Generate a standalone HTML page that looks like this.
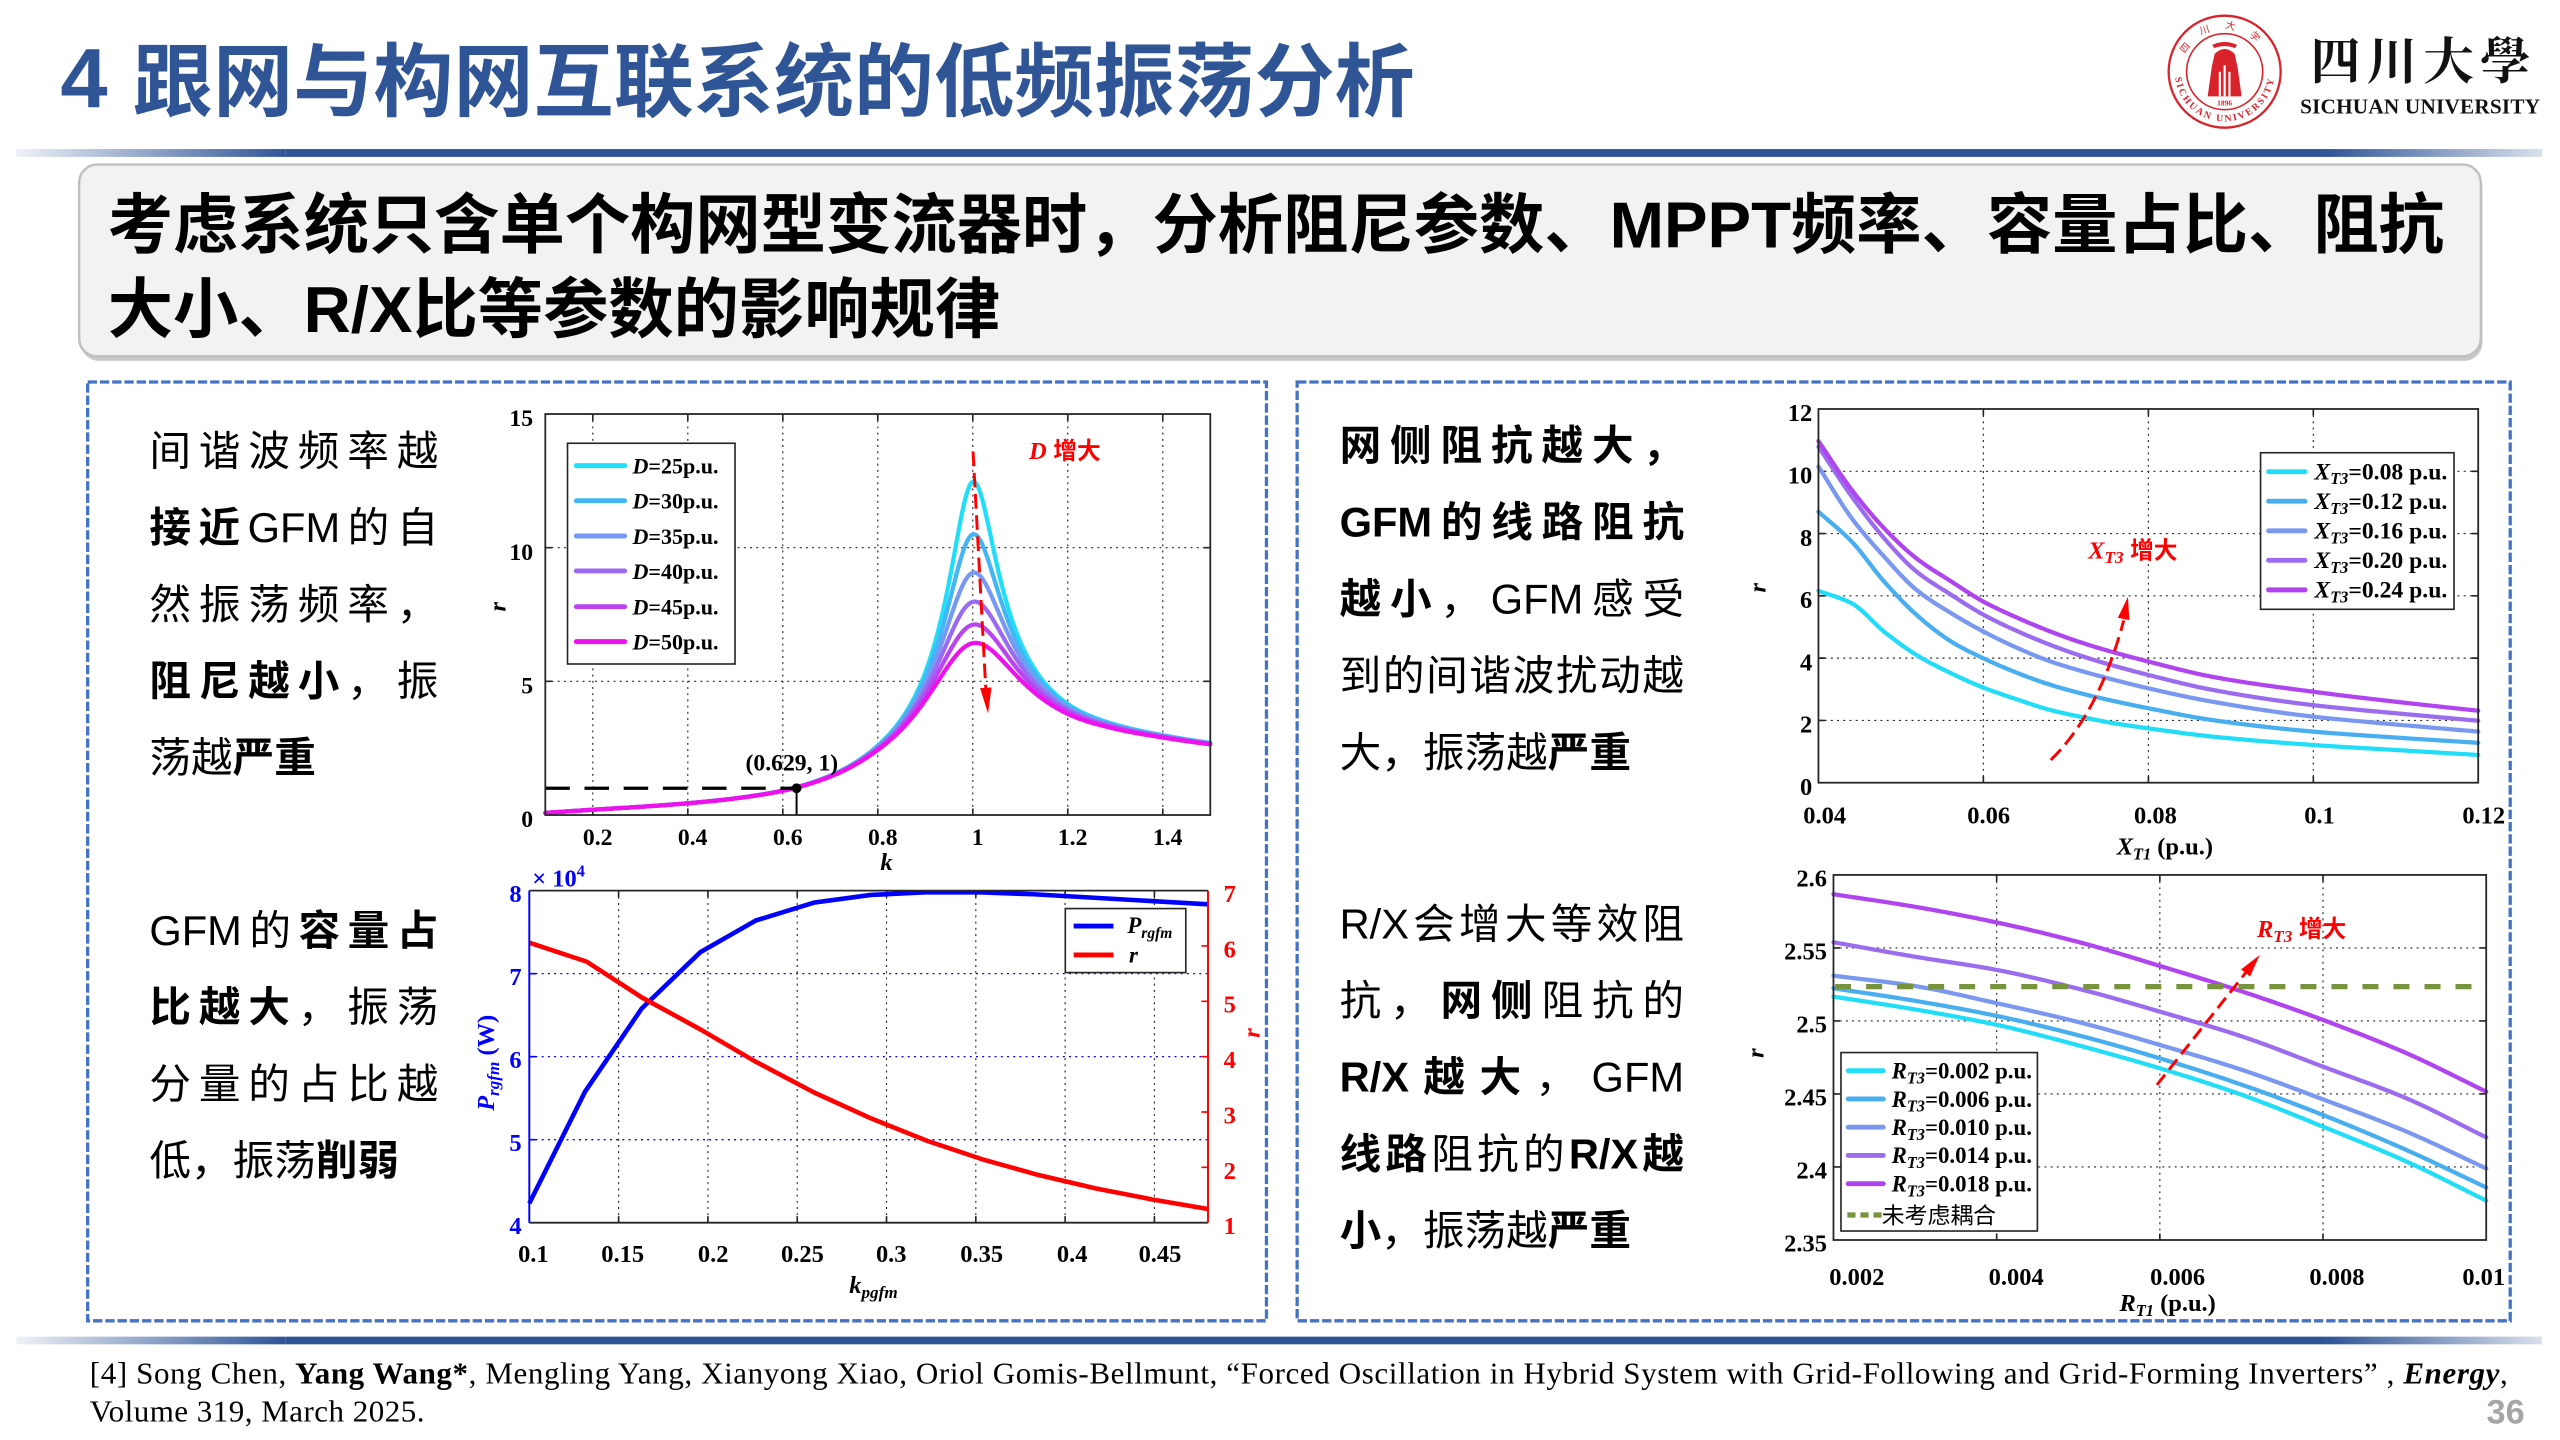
<!DOCTYPE html>
<html><head><meta charset="utf-8">
<style>
html,body{margin:0;padding:0;background:#fff;}
svg{display:block;}
.cn{font-family:"Liberation Sans","Noto Sans CJK SC",sans-serif;}
.sf{font-family:"Liberation Serif","Noto Serif CJK SC",serif;}
.tk{font-family:"Liberation Serif","Noto Serif CJK SC",serif;font-weight:700;}
.hz{font-family:"Liberation Sans","Noto Sans CJK SC",sans-serif;font-weight:700;font-style:normal;}
</style></head><body>
<svg width="2560" height="1440" viewBox="0 0 1568 882">
<defs>
<linearGradient id="gl" x1="0" x2="1" y1="0" y2="0"><stop offset="0" stop-color="#EEF1F7"/><stop offset="1" stop-color="#2F5597"/></linearGradient>
<linearGradient id="gr" x1="0" x2="1" y1="0" y2="0"><stop offset="0" stop-color="#2F5597"/><stop offset="1" stop-color="#D9E0EC"/></linearGradient>
</defs>
<rect width="1568" height="882" fill="#fff"/>

<!-- Title -->
<text class="cn" x="37" y="66" font-size="52" font-weight="700" fill="#2F5597">4</text>
<text class="cn" x="81.5" y="67.5" font-size="49" font-weight="700" fill="#2F5597" textLength="785" lengthAdjust="spacing">跟网与构网互联系统的低频振荡分析</text>

<!-- Logo -->
<g>
<circle cx="1362.6" cy="43.9" r="34.3" fill="none" stroke="#D8232A" stroke-width="1.4"/>
<circle cx="1362.6" cy="43.9" r="23.3" fill="none" stroke="#D8232A" stroke-width="1"/>
<path id="sealb" d="M1333.14 36.01A30.5 30.5 0 1 0 1392.06 36.01" fill="none"/>
<path id="sealt" d="M1340.08 30.9A26 26 0 0 1 1385.12 30.9" fill="none"/>
<text class="tk" font-size="6" fill="#D8232A" letter-spacing="1.2"><textPath href="#sealb" startOffset="50%" text-anchor="middle">SICHUAN UNIVERSITY</textPath></text>
<text class="cn" font-size="6" fill="#D8232A" letter-spacing="9"><textPath href="#sealt" startOffset="50%" text-anchor="middle">四川大学</textPath></text>
<path fill="#D8232A" d="M1355 27.5 Q1362.6 24 1370.2 27.5 L1369 29.5 Q1362.6 27 1356.2 29.5 Z"/>
<path fill="#D8232A" d="M1356.5 33 Q1362.6 27 1368.7 33 L1370.5 41 L1373 59 L1352.2 59 L1354.7 41 Z"/>
<g fill="#fff"><rect x="1359" y="44" width="1.3" height="15"/><rect x="1361.95" y="40" width="1.3" height="19"/><rect x="1364.9" y="44" width="1.3" height="15"/></g>
<text class="tk" x="1362.6" y="64.5" font-size="4.6" text-anchor="middle" fill="#D8232A">1896</text>
<text x="1415" y="48.5" font-size="31" font-weight="700" fill="#111" font-family="'Noto Serif CJK TC','Noto Serif CJK SC',serif" textLength="135" lengthAdjust="spacing">四川大學</text>
<text class="tk" x="1408.8" y="69.4" font-size="13" fill="#111" textLength="147" lengthAdjust="spacing">SICHUAN UNIVERSITY</text>
</g>

<!-- Bars -->
<rect x="10" y="91.3" width="165" height="4.8" fill="url(#gl)"/>
<rect x="175" y="91.3" width="1250" height="4.8" fill="#2F5597"/>
<rect x="1425" y="91.3" width="132" height="4.8" fill="url(#gr)"/>
<rect x="10" y="818.7" width="165" height="4.7" fill="url(#gl)"/>
<rect x="175" y="818.7" width="1250" height="4.7" fill="#2F5597"/>
<rect x="1425" y="818.7" width="132" height="4.7" fill="url(#gr)"/>

<!-- Gray box -->
<rect x="49.5" y="103.5" width="1471" height="117.5" rx="11" fill="#C9C9C9"/>
<rect x="48.5" y="100.8" width="1471" height="117.5" rx="11" fill="#F2F2F2" stroke="#BFBFBF" stroke-width="1.5"/>
<text class="cn" x="66" y="151.5" font-size="40" font-weight="700" fill="#000">考虑系统只含单个构网型变流器时，分析阻尼参数、MPPT频率、容量占比、阻抗</text>
<text class="cn" x="66" y="203.5" font-size="40" font-weight="700" fill="#000">大小、R/X比等参数的影响规律</text>

<!-- Dashed boxes -->
<rect x="53.7" y="234" width="722" height="575" fill="none" stroke="#4472C4" stroke-width="2" stroke-dasharray="5.7 1.8"/>
<rect x="794.5" y="234" width="743" height="575" fill="none" stroke="#4472C4" stroke-width="2" stroke-dasharray="5.7 1.8"/>

<!-- Left / right texts -->
<g class="cn" font-size="25.5" fill="#000">
<text x="91.5" y="285" textLength="177" lengthAdjust="spacing">间谐波频率越</text>
<text x="91.5" y="332"><tspan font-weight="700">接</tspan><tspan font-weight="700" x="121.6">近</tspan><tspan x="151.7">GFM</tspan><tspan x="212.9">的</tspan><tspan x="243">自</tspan></text>
<text x="91.5" y="379" textLength="177" lengthAdjust="spacing">然振荡频率，</text>
<text x="91.5" y="426" textLength="177" lengthAdjust="spacing"><tspan font-weight="700">阻尼越小</tspan>，振</text>
<text x="91.5" y="473">荡越<tspan font-weight="700">严重</tspan></text>

<text x="91.5" y="578.7"><tspan>GFM</tspan><tspan x="152.75">的</tspan><tspan font-weight="700" x="182.83">容</tspan><tspan font-weight="700" x="212.92">量</tspan><tspan font-weight="700" x="243">占</tspan></text>
<text x="91.5" y="625.7" textLength="177" lengthAdjust="spacing"><tspan font-weight="700">比越大</tspan>，振荡</text>
<text x="91.5" y="672.7" textLength="177" lengthAdjust="spacing">分量的占比越</text>
<text x="91.5" y="719.7">低，振荡<tspan font-weight="700">削弱</tspan></text>

<text x="820.5" y="281.7" textLength="211" lengthAdjust="spacing" font-weight="700">网侧阻抗越大，</text>
<text x="820.5" y="328.7" font-weight="700"><tspan>GFM</tspan><tspan x="882.53">的</tspan><tspan x="913.4">线</tspan><tspan x="944.27">路</tspan><tspan x="975.14">阻</tspan><tspan x="1006.01">抗</tspan></text>
<text x="820.5" y="375.7"><tspan font-weight="700">越</tspan><tspan font-weight="700" x="851.37">小</tspan><tspan x="882.24">，</tspan><tspan x="913.11">GFM</tspan><tspan x="975.14">感</tspan><tspan x="1006.01">受</tspan></text>
<text x="820.5" y="422.7" textLength="211" lengthAdjust="spacing">到的间谐波扰动越</text>
<text x="820.5" y="469.7">大，振荡越<tspan font-weight="700">严重</tspan></text>

<text x="820.5" y="574.7"><tspan>R/X</tspan><tspan x="865.58">会</tspan><tspan x="893.67">增</tspan><tspan x="921.75">大</tspan><tspan x="949.83">等</tspan><tspan x="977.92">效</tspan><tspan x="1006">阻</tspan></text>
<text x="820.5" y="621.7" textLength="211" lengthAdjust="spacing">抗，<tspan font-weight="700">网侧</tspan>阻抗的</text>
<text x="820.5" y="668.7"><tspan font-weight="700">R/X</tspan><tspan font-weight="700" x="871.84">越</tspan><tspan font-weight="700" x="906.17">大</tspan><tspan x="940.5">，</tspan><tspan x="974.84">GFM</tspan></text>
<text x="820.5" y="715.7"><tspan font-weight="700">线</tspan><tspan font-weight="700" x="848.58">路</tspan><tspan x="876.67">阻</tspan><tspan x="904.75">抗</tspan><tspan x="932.83">的</tspan><tspan font-weight="700" x="960.92">R/X</tspan><tspan font-weight="700" x="1006">越</tspan></text>
<text x="820.5" y="762.7"><tspan font-weight="700">小</tspan>，振荡越<tspan font-weight="700">严重</tspan></text>
</g>

<!-- ================= Chart 1 ================= -->
<rect x="334" y="253.6" width="407.3" height="245.6" fill="#fff"/>
<path d="M363.09 253.6V499.2M421.28 253.6V499.2M479.47 253.6V499.2M537.65 253.6V499.2M595.84 253.6V499.2M654.02 253.6V499.2M712.21 253.6V499.2M334 417.33H741.3M334 335.47H741.3" stroke="#262626" stroke-width="0.7" stroke-dasharray="1.2 2.6" fill="none"/>
<path d="M363.09 499.2v-4M421.28 499.2v-4M479.47 499.2v-4M537.65 499.2v-4M595.84 499.2v-4M654.02 499.2v-4M712.21 499.2v-4M363.09 253.6v4M421.28 253.6v4M479.47 253.6v4M537.65 253.6v4M595.84 253.6v4M654.02 253.6v4M712.21 253.6v4M334 417.33h4M334 335.47h4M741.3 417.33h-4M741.3 335.47h-4" stroke="#262626" stroke-width="1" fill="none"/>
<g fill="none" stroke-width="2.6" stroke-linejoin="round" stroke-linecap="round">
<path id="a0" stroke="#22DDF8"/>
<path id="a1" stroke="#44B6F6"/>
<path id="a2" stroke="#7799F4"/>
<path id="a3" stroke="#9A6BF2"/>
<path id="a4" stroke="#BB44F0"/>
<path id="a5" stroke="#EE11EE"/>
</g>
<line x1="334" y1="482.8" x2="487.9" y2="482.8" stroke="#000" stroke-width="2" stroke-dasharray="15 9"/>
<line x1="487.9" y1="482.8" x2="487.9" y2="499.2" stroke="#000" stroke-width="1.2"/>
<circle cx="487.9" cy="482.8" r="3" fill="#000"/>
<text class="tk" x="485" y="472" font-size="14.5" text-anchor="middle">(0.629, 1)</text>
<line x1="596" y1="276.6" x2="603.8" y2="422" stroke="#FF0000" stroke-width="1.8" stroke-dasharray="9 4"/>
<polygon points="605.2,437 600.3,421.5 607.3,421.1" fill="#FF0000"/>
<text class="tk" x="630.3" y="281" font-size="15" fill="#FF0000"><tspan font-style="italic">D</tspan><tspan class="hz" font-size="14.5"> 增大</tspan></text>
<rect x="347.6" y="271.5" width="102.6" height="135.2" fill="#fff" stroke="#262626" stroke-width="1"/>
<g stroke-width="3" stroke-linecap="round">
<line x1="353" y1="285.2" x2="382.6" y2="285.2" stroke="#22DDF8"/>
<line x1="353" y1="306.7" x2="382.6" y2="306.7" stroke="#44B6F6"/>
<line x1="353" y1="328.3" x2="382.6" y2="328.3" stroke="#7799F4"/>
<line x1="353" y1="349.7" x2="382.6" y2="349.7" stroke="#9A6BF2"/>
<line x1="353" y1="371.6" x2="382.6" y2="371.6" stroke="#BB44F0"/>
<line x1="353" y1="393" x2="382.6" y2="393" stroke="#EE11EE"/>
</g>
<g class="tk" font-size="13.5" fill="#000">
<text x="387.4" y="290"><tspan font-style="italic">D</tspan>=25p.u.</text>
<text x="387.4" y="311.5"><tspan font-style="italic">D</tspan>=30p.u.</text>
<text x="387.4" y="333.1"><tspan font-style="italic">D</tspan>=35p.u.</text>
<text x="387.4" y="354.5"><tspan font-style="italic">D</tspan>=40p.u.</text>
<text x="387.4" y="376.4"><tspan font-style="italic">D</tspan>=45p.u.</text>
<text x="387.4" y="397.8"><tspan font-style="italic">D</tspan>=50p.u.</text>
</g>
<rect x="334" y="253.6" width="407.3" height="245.6" fill="none" stroke="#262626" stroke-width="1.1"/>
<g class="tk" font-size="14.5" fill="#000">
<text x="326.5" y="261" text-anchor="end">15</text>
<text x="326.5" y="343" text-anchor="end">10</text>
<text x="326.5" y="424.8" text-anchor="end">5</text>
<text x="326.5" y="506.7" text-anchor="end">0</text>
<text x="366.1" y="517.5" text-anchor="middle">0.2</text>
<text x="424.3" y="517.5" text-anchor="middle">0.4</text>
<text x="482.5" y="517.5" text-anchor="middle">0.6</text>
<text x="540.7" y="517.5" text-anchor="middle">0.8</text>
<text x="598.8" y="517.5" text-anchor="middle">1</text>
<text x="657" y="517.5" text-anchor="middle">1.2</text>
<text x="715.2" y="517.5" text-anchor="middle">1.4</text>
<text x="543" y="533" text-anchor="middle" font-style="italic" font-size="15">k</text>
<text transform="translate(309.5,371.6) rotate(-90)" text-anchor="middle" font-style="italic" font-size="15">r</text>
</g>

<!-- ================= Chart 2 ================= -->
<rect x="324.2" y="545.5" width="415.7" height="203.4" fill="#fff"/>
<path d="M378.9 545.5V748.9M433.6 545.5V748.9M488.3 545.5V748.9M542.99 545.5V748.9M597.69 545.5V748.9M652.39 545.5V748.9M707.08 545.5V748.9" stroke="#262626" stroke-width="0.7" stroke-dasharray="1.2 2.6" fill="none"/>
<path d="M324.2 698.05H739.9M324.2 647.2H739.9M324.2 596.35H739.9" stroke="#0000FF" stroke-width="0.8" stroke-dasharray="1.2 2.6" fill="none"/>
<path d="M378.9 748.9v-4M433.6 748.9v-4M488.3 748.9v-4M542.99 748.9v-4M597.69 748.9v-4M652.39 748.9v-4M707.08 748.9v-4M378.9 545.5v4M433.6 545.5v4M488.3 545.5v4M542.99 545.5v4M597.69 545.5v4M652.39 545.5v4M707.08 545.5v4" stroke="#262626" stroke-width="1" fill="none"/>
<path d="M324.2 698.05h4M324.2 647.2h4M324.2 596.35h4" stroke="#0000FF" stroke-width="1" fill="none"/>
<path d="M739.9 715h-4M739.9 681.1h-4M739.9 647.2h-4M739.9 613.3h-4M739.9 579.4h-4" stroke="#FF0000" stroke-width="1" fill="none"/>
<g fill="none" stroke-width="2.8" stroke-linejoin="round">
<path id="bP" stroke="#0000FF"/>
<path id="bR" stroke="#FF0000"/>
</g>
<line x1="324.2" y1="545.5" x2="739.9" y2="545.5" stroke="#262626" stroke-width="1.1"/>
<line x1="324.2" y1="748.9" x2="739.9" y2="748.9" stroke="#262626" stroke-width="1.1"/>
<line x1="324.2" y1="545.5" x2="324.2" y2="748.9" stroke="#0000FF" stroke-width="1.2"/>
<line x1="739.9" y1="545.5" x2="739.9" y2="748.9" stroke="#FF0000" stroke-width="1.2"/>
<rect x="652.5" y="556.5" width="73.8" height="39.2" fill="#fff" stroke="#262626" stroke-width="1"/>
<line x1="657.6" y1="567.2" x2="682" y2="567.2" stroke="#0000FF" stroke-width="3"/>
<line x1="657.6" y1="584.9" x2="682" y2="584.9" stroke="#FF0000" stroke-width="3"/>
<text class="tk" x="690.5" y="571.5" font-size="14"><tspan font-style="italic">P</tspan><tspan font-style="italic" font-size="9.5" dy="3">rgfm</tspan></text>
<text class="tk" x="691.5" y="589.5" font-size="14" font-style="italic">r</text>
<g class="tk" font-size="15" fill="#0000FF" text-anchor="end">
<text x="319.5" y="552.5">8</text>
<text x="319.5" y="603.4">7</text>
<text x="319.5" y="654.2">6</text>
<text x="319.5" y="705">5</text>
<text x="319.5" y="755.9">4</text>
</g>
<g class="tk" font-size="15" fill="#FF0000">
<text x="749.5" y="552.5">7</text>
<text x="749.5" y="586.4">6</text>
<text x="749.5" y="620.3">5</text>
<text x="749.5" y="654.2">4</text>
<text x="749.5" y="688.1">3</text>
<text x="749.5" y="722">2</text>
<text x="749.5" y="755.9">1</text>
<text transform="translate(771.5,632.7) rotate(-90)" text-anchor="middle" font-style="italic">r</text>
</g>
<g class="tk" font-size="15" fill="#000" text-anchor="middle">
<text x="326.7" y="773">0.1</text>
<text x="381.4" y="773">0.15</text>
<text x="436.8" y="773">0.2</text>
<text x="491.5" y="773">0.25</text>
<text x="545.9" y="773">0.3</text>
<text x="601.3" y="773">0.35</text>
<text x="656.7" y="773">0.4</text>
<text x="710.5" y="773">0.45</text>
<text x="535" y="792"><tspan font-style="italic">k</tspan><tspan font-style="italic" font-size="10.5" dy="3">pgfm</tspan></text>
</g>
<text class="tk" x="326" y="543" font-size="15" fill="#0000FF">× 10<tspan font-size="10" dy="-6">4</tspan></text>
<text class="tk" transform="translate(302.5,651) rotate(-90)" text-anchor="middle" font-size="15" fill="#0000FF"><tspan font-style="italic">P</tspan><tspan font-style="italic" font-size="10.5" dy="3">rgfm</tspan><tspan dy="-3"> (W)</tspan></text>

<!-- ================= Chart 3 ================= -->
<rect x="1113.8" y="250.5" width="404.1" height="228.9" fill="#fff"/>
<path d="M1214.8 250.5V479.4M1315.9 250.5V479.4M1416.9 250.5V479.4M1113.8 441.25H1517.9M1113.8 403.1H1517.9M1113.8 364.95H1517.9M1113.8 326.8H1517.9M1113.8 288.65H1517.9" stroke="#262626" stroke-width="0.7" stroke-dasharray="1.2 2.6" fill="none"/>
<path d="M1214.8 479.4v-4M1315.9 479.4v-4M1416.9 479.4v-4M1214.8 250.5v4M1315.9 250.5v4M1416.9 250.5v4M1113.8 441.25h4M1113.8 403.1h4M1113.8 364.95h4M1113.8 326.8h4M1113.8 288.65h4M1517.9 441.25h-4M1517.9 403.1h-4M1517.9 364.95h-4M1517.9 326.8h-4M1517.9 288.65h-4" stroke="#262626" stroke-width="1" fill="none"/>
<g fill="none" stroke-width="2.6" stroke-linejoin="round" stroke-linecap="round">
<path id="c0" stroke="#22DDF8"/>
<path id="c1" stroke="#48AEF0"/>
<path id="c2" stroke="#7A98F0"/>
<path id="c3" stroke="#9C6CEE"/>
<path id="c4" stroke="#B044EE"/>
</g>
<path d="M1256.1,465.5 C1275,447 1290,420 1300.8,380" fill="none" stroke="#FF0000" stroke-width="1.8" stroke-dasharray="9 4"/>
<polygon points="1303.4,365.5 1297.2,378.4 1304.2,379.8" fill="#FF0000"/>
<text class="tk" x="1279" y="342" font-size="15" fill="#FF0000"><tspan font-style="italic">X</tspan><tspan font-style="italic" font-size="10.5" dy="3">T3</tspan><tspan class="hz" dy="-3" font-size="14.5"> 增大</tspan></text>
<rect x="1384.6" y="277.3" width="118.5" height="95.9" fill="#fff" stroke="#262626" stroke-width="1"/>
<g stroke-width="3" stroke-linecap="round">
<line x1="1389.5" y1="288.9" x2="1411.8" y2="288.9" stroke="#22DDF8"/>
<line x1="1389.5" y1="307.0" x2="1411.8" y2="307.0" stroke="#48AEF0"/>
<line x1="1389.5" y1="325.1" x2="1411.8" y2="325.1" stroke="#7A98F0"/>
<line x1="1389.5" y1="343.2" x2="1411.8" y2="343.2" stroke="#9C6CEE"/>
<line x1="1389.5" y1="361.3" x2="1411.8" y2="361.3" stroke="#B044EE"/>
</g>
<g class="tk" font-size="14.5" fill="#000">
<text x="1417.6" y="293.6"><tspan font-style="italic">X</tspan><tspan font-style="italic" font-size="10" dy="3">T3</tspan><tspan dy="-3">=0.08 p.u.</tspan></text>
<text x="1417.6" y="311.7"><tspan font-style="italic">X</tspan><tspan font-style="italic" font-size="10" dy="3">T3</tspan><tspan dy="-3">=0.12 p.u.</tspan></text>
<text x="1417.6" y="329.8"><tspan font-style="italic">X</tspan><tspan font-style="italic" font-size="10" dy="3">T3</tspan><tspan dy="-3">=0.16 p.u.</tspan></text>
<text x="1417.6" y="347.9"><tspan font-style="italic">X</tspan><tspan font-style="italic" font-size="10" dy="3">T3</tspan><tspan dy="-3">=0.20 p.u.</tspan></text>
<text x="1417.6" y="366"><tspan font-style="italic">X</tspan><tspan font-style="italic" font-size="10" dy="3">T3</tspan><tspan dy="-3">=0.24 p.u.</tspan></text>
</g>
<rect x="1113.8" y="250.5" width="404.1" height="228.9" fill="none" stroke="#262626" stroke-width="1.1"/>
<g class="tk" font-size="15" fill="#000">
<text x="1110" y="258" text-anchor="end">12</text>
<text x="1110" y="296.2" text-anchor="end">10</text>
<text x="1110" y="334.3" text-anchor="end">8</text>
<text x="1110" y="372.5" text-anchor="end">6</text>
<text x="1110" y="410.6" text-anchor="end">4</text>
<text x="1110" y="448.8" text-anchor="end">2</text>
<text x="1110" y="487" text-anchor="end">0</text>
<text x="1117.6" y="504.5" text-anchor="middle">0.04</text>
<text x="1218.1" y="504.5" text-anchor="middle">0.06</text>
<text x="1320.2" y="504.5" text-anchor="middle">0.08</text>
<text x="1420.7" y="504.5" text-anchor="middle">0.1</text>
<text x="1521.3" y="504.5" text-anchor="middle">0.12</text>
<text x="1326" y="523.5" text-anchor="middle"><tspan font-style="italic">X</tspan><tspan font-style="italic" font-size="10" dy="3">T1</tspan><tspan dy="-3"> (p.u.)</tspan></text>
<text transform="translate(1081.5,360) rotate(-90)" text-anchor="middle" font-style="italic">r</text>
</g>

<!-- ================= Chart 4 ================= -->
<rect x="1123" y="535.9" width="399.8" height="223.6" fill="#fff"/>
<path d="M1222.95 535.9V759.5M1322.9 535.9V759.5M1422.85 535.9V759.5M1123 714.78H1522.8M1123 670.06H1522.8M1123 625.34H1522.8M1123 580.62H1522.8" stroke="#262626" stroke-width="0.7" stroke-dasharray="1.2 2.6" fill="none"/>
<path d="M1222.95 759.5v-4M1322.9 759.5v-4M1422.85 759.5v-4M1222.95 535.9v4M1322.9 535.9v4M1422.85 535.9v4M1123 714.78h4M1123 670.06h4M1123 625.34h4M1123 580.62h4M1522.8 714.78h-4M1522.8 670.06h-4M1522.8 625.34h-4M1522.8 580.62h-4" stroke="#262626" stroke-width="1" fill="none"/>
<g fill="none" stroke-width="2.6" stroke-linejoin="round" stroke-linecap="round">
<path id="d0" stroke="#22DDF8"/>
<path id="d1" stroke="#48AEF0"/>
<path id="d2" stroke="#7A98F0"/>
<path id="d3" stroke="#9C6CEE"/>
<path id="d4" stroke="#B044EE"/>
</g>
<line x1="1124" y1="604.3" x2="1522" y2="604.3" stroke="#77933C" stroke-width="3.2" stroke-dasharray="9.8 9.2"/>
<line x1="1321.1" y1="664.5" x2="1375.4" y2="595.9" stroke="#FF0000" stroke-width="1.8" stroke-dasharray="8 4"/>
<polygon points="1384.1,584.9 1372.66,593.73 1378.14,598.07" fill="#FF0000"/>
<text class="tk" x="1382.4" y="574" font-size="15" fill="#FF0000"><tspan font-style="italic">R</tspan><tspan font-style="italic" font-size="10.5" dy="3">T3</tspan><tspan class="hz" dy="-3" font-size="14.5"> 增大</tspan></text>
<rect x="1127.6" y="644.7" width="120.3" height="109.3" fill="#fff" stroke="#262626" stroke-width="1"/>
<g stroke-width="3" stroke-linecap="round">
<line x1="1132" y1="655.8" x2="1153.5" y2="655.8" stroke="#22DDF8"/>
<line x1="1132" y1="673.1" x2="1153.5" y2="673.1" stroke="#48AEF0"/>
<line x1="1132" y1="690.4" x2="1153.5" y2="690.4" stroke="#7A98F0"/>
<line x1="1132" y1="707.7" x2="1153.5" y2="707.7" stroke="#9C6CEE"/>
<line x1="1132" y1="725" x2="1153.5" y2="725" stroke="#B044EE"/>
</g>
<line x1="1131.5" y1="744.2" x2="1154" y2="744.2" stroke="#77933C" stroke-width="3.2" stroke-dasharray="5 3"/>
<g class="tk" font-size="14" fill="#000">
<text x="1158.6" y="660.6"><tspan font-style="italic">R</tspan><tspan font-style="italic" font-size="10" dy="3">T3</tspan><tspan dy="-3">=0.002 p.u.</tspan></text>
<text x="1158.6" y="677.9"><tspan font-style="italic">R</tspan><tspan font-style="italic" font-size="10" dy="3">T3</tspan><tspan dy="-3">=0.006 p.u.</tspan></text>
<text x="1158.6" y="695.2"><tspan font-style="italic">R</tspan><tspan font-style="italic" font-size="10" dy="3">T3</tspan><tspan dy="-3">=0.010 p.u.</tspan></text>
<text x="1158.6" y="712.5"><tspan font-style="italic">R</tspan><tspan font-style="italic" font-size="10" dy="3">T3</tspan><tspan dy="-3">=0.014 p.u.</tspan></text>
<text x="1158.6" y="729.8"><tspan font-style="italic">R</tspan><tspan font-style="italic" font-size="10" dy="3">T3</tspan><tspan dy="-3">=0.018 p.u.</tspan></text>
</g>
<text class="cn" x="1152.6" y="749.3" font-size="14" fill="#000">未考虑耦合</text>
<rect x="1123" y="535.9" width="399.8" height="223.6" fill="none" stroke="#262626" stroke-width="1.1"/>
<g class="tk" font-size="15" fill="#000">
<text x="1119" y="542.9" text-anchor="end">2.6</text>
<text x="1119" y="587.6" text-anchor="end">2.55</text>
<text x="1119" y="632.3" text-anchor="end">2.5</text>
<text x="1119" y="677.1" text-anchor="end">2.45</text>
<text x="1119" y="721.8" text-anchor="end">2.4</text>
<text x="1119" y="766.5" text-anchor="end">2.35</text>
<text x="1137.3" y="787" text-anchor="middle">0.002</text>
<text x="1234.9" y="787" text-anchor="middle">0.004</text>
<text x="1333.8" y="787" text-anchor="middle">0.006</text>
<text x="1431.4" y="787" text-anchor="middle">0.008</text>
<text x="1521.3" y="787" text-anchor="middle">0.01</text>
<text x="1327.7" y="803" text-anchor="middle"><tspan font-style="italic">R</tspan><tspan font-style="italic" font-size="10" dy="3">T1</tspan><tspan dy="-3"> (p.u.)</tspan></text>
<text transform="translate(1080,645) rotate(-90)" text-anchor="middle" font-style="italic">r</text>
</g>

<!-- Reference -->
<text class="sf" x="55" y="847.3" font-size="19" fill="#000" textLength="1481" lengthAdjust="spacing">[4] Song Chen, <tspan font-weight="700">Yang Wang*</tspan>, Mengling Yang, Xianyong Xiao, Oriol Gomis-Bellmunt, “Forced Oscillation in Hybrid System with Grid-Following and Grid-Forming Inverters” , <tspan font-weight="700" font-style="italic">Energy</tspan>,</text>
<text class="sf" x="55" y="870.8" font-size="19" fill="#000" textLength="205" lengthAdjust="spacing">Volume 319, March 2025.</text>
<text class="cn" x="1523" y="872" font-size="21" font-weight="700" fill="#A6A6A6">36</text>
</svg>
<script>
(function(){
function mono(xs,ys){
  var n=xs.length,d=[],m=new Array(n),i;
  for(i=0;i<n-1;i++)d.push((ys[i+1]-ys[i])/(xs[i+1]-xs[i]));
  m[0]=d[0];m[n-1]=d[n-2];
  for(i=1;i<n-1;i++){
    if(d[i-1]*d[i]<=0)m[i]=0;
    else{var h0=xs[i]-xs[i-1],h1=xs[i+1]-xs[i];var w1=2*h1+h0,w2=h1+2*h0;m[i]=(w1+w2)/(w1/d[i-1]+w2/d[i]);}
  }
  return function(x){
    var j=0;while(j<n-2&&x>xs[j+1])j++;
    var h=xs[j+1]-xs[j],t=(x-xs[j])/h,t2=t*t,t3=t2*t;
    return (2*t3-3*t2+1)*ys[j]+(t3-2*t2+t)*h*m[j]+(-2*t3+3*t2)*ys[j+1]+(t3-t2)*h*m[j+1];
  };
}
function pth(p){var s='M'+p[0][0].toFixed(2)+' '+p[0][1].toFixed(2);for(var i=1;i<p.length;i++)s+='L'+p[i][0].toFixed(2)+' '+p[i][1].toFixed(2);return s;}
function setD(id,p){var e=document.getElementById(id);if(e)e.setAttribute('d',pth(p));}

/* chart 1 */
var gk=[],gv=[0.08,0.19,0.28,0.37,0.47,0.59,0.76,0.96,1.13,1.3,1.55,1.9,2.38,2.9,3.4];
for(var i=0;i<15;i++)gk.push(0.1+0.1*i);
var g=mono(gk,gv);
[25,30,35,40,45,50].forEach(function(D,j){
  var z=0.00634+0.003917*D,pts=[];
  for(var i=0;i<=560;i++){
    var k=0.1+1.4*i/560;
    var r=g(k)/Math.sqrt(Math.pow(1-k*k,2)+Math.pow(z*k,2));
    pts.push([334+(k-0.1)*290.93,499.2-16.373*r]);
  }
  setD('a'+j,pts);
});

/* chart 2 */
function X2(k){return 324.2+(k-0.1)*1093.95;}
function YP(P){return 748.9-(P-4)*50.85;}
function YR(r){return 748.9-(r-1)*33.9;}
var Pd=[[0.1,4.233],[0.1312,5.578],[0.163,6.582],[0.1957,7.257],[0.2267,7.639],[0.2593,7.855],[0.2912,7.948],[0.323,7.98],[0.3504,7.98],[0.3822,7.956],[0.48,7.835]];
var Rd=[[0.1,6.06],[0.1321,5.717],[0.163,5.07],[0.1957,4.494],[0.2261,3.92],[0.2593,3.355],[0.2912,2.886],[0.323,2.476],[0.3548,2.133],[0.3851,1.861],[0.417,1.62],[0.4488,1.42],[0.48,1.247]];
setD('bP',Pd.map(function(p){return [X2(p[0]),YP(p[1])];}));
setD('bR',Rd.map(function(p){return [X2(p[0]),YR(p[1])];}));

/* chart 3 */
var xs3=[0.04,0.04404,0.04796,0.05189,0.05611,0.06003,0.06425,0.06817,0.0721,0.07602,0.08,0.08778,0.1,0.11,0.12];
var d3=[
[6.16,5.76,4.85,4.1,3.51,3.05,2.66,2.33,2.1,1.9,1.745,1.48,1.21,1.05,0.89],
[8.7,7.74,6.46,5.39,4.53,3.99,3.51,3.14,2.85,2.61,2.39,2.01,1.64,1.45,1.28],
[10.15,8.49,7.26,6.19,5.44,4.85,4.31,3.89,3.57,3.29,3.03,2.6,2.12,1.87,1.64],
[10.79,9.19,7.85,6.78,6.03,5.39,4.85,4.42,4.05,3.74,3.46,2.98,2.49,2.23,1.99],
[10.97,9.4,8.17,7.2,6.46,5.81,5.28,4.85,4.48,4.17,3.89,3.4,2.92,2.6,2.31]];
d3.forEach(function(ys,j){
  var f=mono(xs3,ys),pts=[];
  for(var i=0;i<=240;i++){var x=0.04+0.08*i/240;pts.push([1113.8+(x-0.04)*5051.25,479.4-19.075*f(x)]);}
  setD('c'+j,pts);
});

/* chart 4 */
var xs4=[0.002,0.002988,0.004006,0.005061,0.006,0.007012,0.008,0.009024,0.01];
var d4=[
[2.5167,2.508,2.4973,2.4824,2.4676,2.4493,2.4276,2.4037,2.377],
[2.5224,2.5139,2.5034,2.4893,2.4744,2.4562,2.4356,2.4116,2.386],
[2.531,2.524,2.5121,2.4984,2.4836,2.4664,2.4463,2.4242,2.399],
[2.5539,2.5441,2.5349,2.5212,2.5064,2.4893,2.4687,2.447,2.4203],
[2.5868,2.5783,2.5674,2.5532,2.5377,2.5201,2.5007,2.4779,2.4516]];
d4.forEach(function(ys,j){
  var f=mono(xs4,ys),pts=[];
  for(var i=0;i<=200;i++){var x=0.002+0.008*i/200;pts.push([1123+(x-0.002)*49975,759.5-894.4*(f(x)-2.35)]);}
  setD('d'+j,pts);
});
})();
</script>
</body></html>
